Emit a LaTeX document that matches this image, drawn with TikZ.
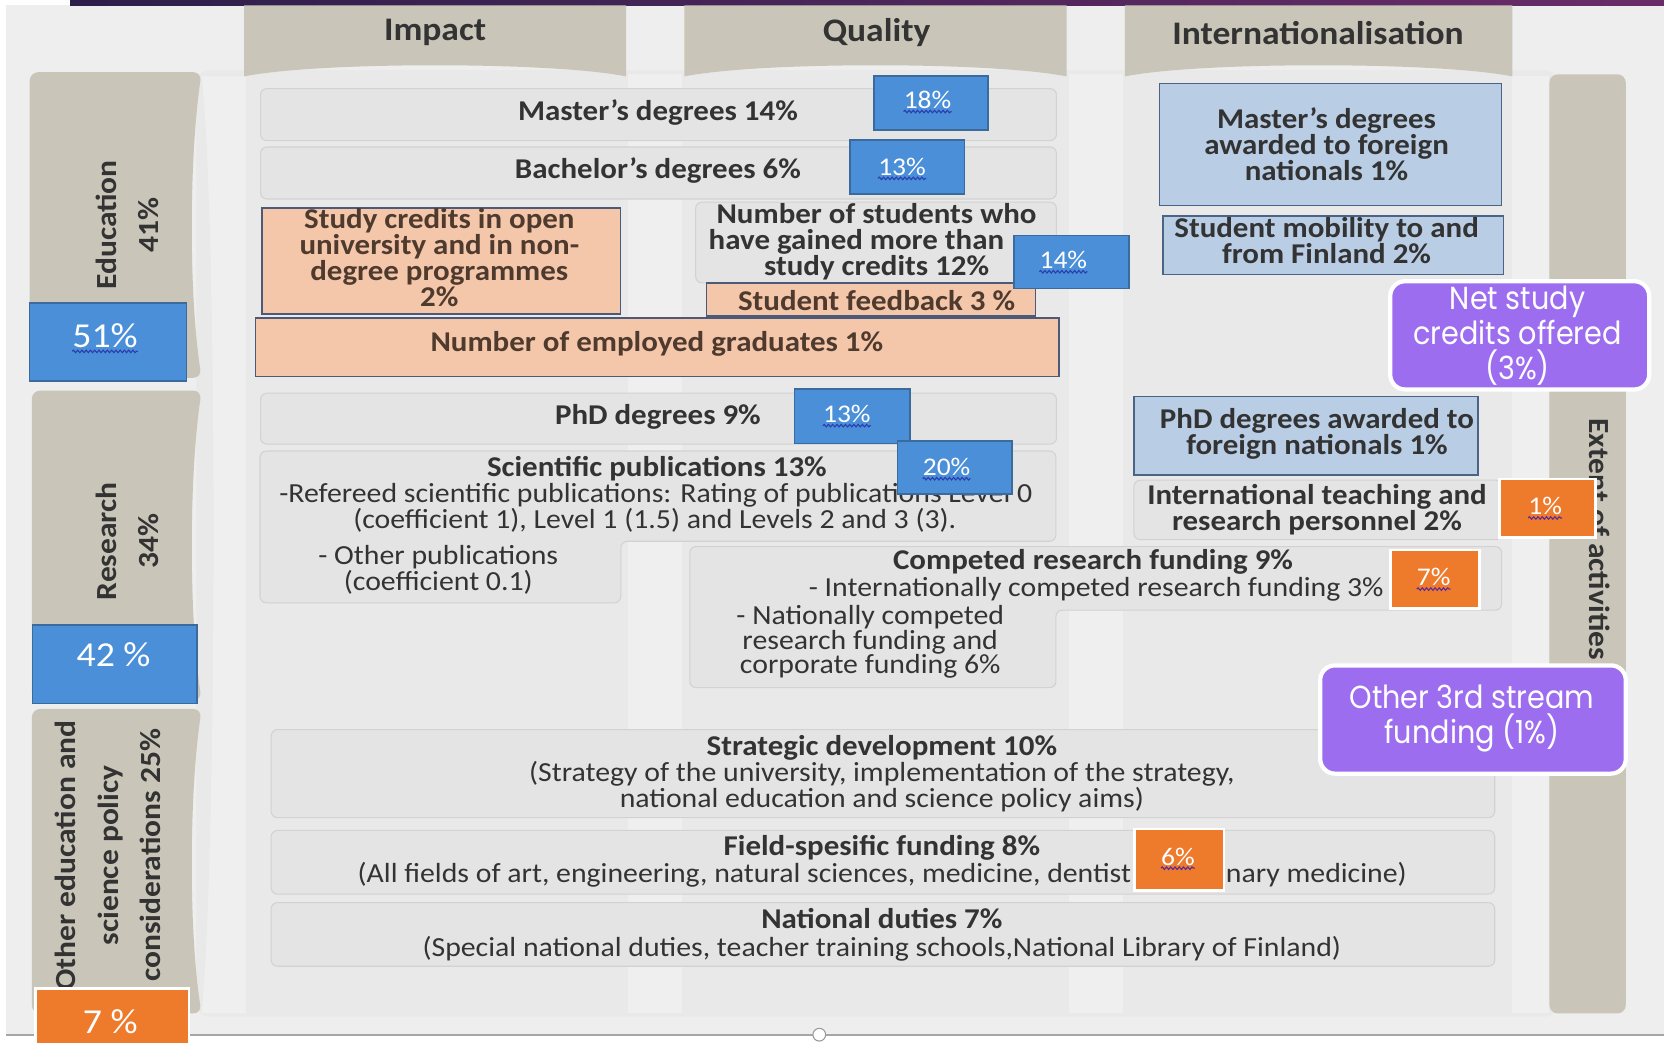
\documentclass[tikz,border=0pt]{standalone}
\usepackage{fontspec}
\setmainfont{Carlito}[FakeStretch=1.08]
\newfontfamily\pop{Poppins}[FakeStretch=0.9]
\usetikzlibrary{decorations.pathmorphing}
\definecolor{bgc}{HTML}{EEEEEE}
\definecolor{panelc}{HTML}{E9E9E9}
\definecolor{tanc}{HTML}{C9C5B9}
\definecolor{barc}{HTML}{E4E4E4}
\definecolor{barline}{HTML}{D2D2D2}
\definecolor{bluec}{HTML}{4A8FD8}
\definecolor{blueline}{HTML}{3B6A9C}
\definecolor{peachc}{HTML}{F4C7AB}
\definecolor{peachline}{HTML}{4B5A78}
\definecolor{ltbluec}{HTML}{B9CDE5}
\definecolor{ltblueline}{HTML}{4A6486}
\definecolor{orangec}{HTML}{EE7A2C}
\definecolor{purplec}{HTML}{9D6DF0}
\definecolor{txtc}{HTML}{333333}
\definecolor{browntxt}{HTML}{4F3A2E}
\definecolor{topA}{HTML}{2C1F4A}
\definecolor{topB}{HTML}{6A2C68}
\definecolor{wavyb}{HTML}{2A3DB0}
\definecolor{wavyp}{HTML}{5A2A9A}
\newcommand{\boxat}[6]{\node[#1,anchor=north west,minimum width=#5pt,minimum height=#6pt,inner sep=0pt] (#2) at (#3,#4) {};}
\begin{document}
\begin{tikzpicture}[x=1pt,y=-1pt,
  tab/.style={fill=tanc},
  bar/.style={fill=barc,draw=barline,line width=1pt,rounded corners=6pt},
  bluebox/.style={fill=bluec,draw=blueline,line width=1.5pt},
  peachbox/.style={fill=peachc,draw=peachline,line width=1.5pt},
  ltbox/.style={fill=ltbluec,draw=ltblueline,line width=1.5pt},
  orbox/.style={fill=orangec,draw=white,line width=2.5pt},
  purbox/.style={fill=purplec,draw=white,line width=4pt,rounded corners=14pt},
  bt/.style={font=\fontsize{27}{24.5}\selectfont\bfseries,text=txtc,align=center,inner sep=0pt},
  bbt/.style={bt,text=browntxt},
  st/.style={font=\fontsize{26}{23}\selectfont,text=txtc,align=center,inner sep=0pt},
  hd/.style={font=\fontsize{31}{31}\selectfont\bfseries,text=txtc,inner sep=0pt},
  tabt/.style={font=\fontsize{27.5}{40}\selectfont\bfseries,text=txtc,align=center,inner sep=0pt},
  pct/.style={font=\fontsize{24}{24}\selectfont,text=white,inner sep=0pt},
  bigpct/.style={font=\fontsize{33}{33}\selectfont,text=white,inner sep=0pt},
  ptxt/.style={font=\pop\fontsize{30}{33}\selectfont,text=white,align=center,inner sep=0pt},
  wavy/.style={decorate,decoration={snake,amplitude=1.2pt,segment length=4pt},line width=1pt}
]
\useasboundingbox (0,0) rectangle (1568,982);
% background
\fill[bgc] (0,0) rectangle (1568,982);
\fill[white] (0,0) rectangle (6,982);
\fill[white] (0,0) rectangle (66,5);
\shade[left color=topA,right color=topB] (66,0) rectangle (1568,5);
% panel
\fill[panelc,rounded corners=12pt] (185,66) rectangle (1468,958);
\fill[white,opacity=0.3] (592,70) rectangle (643,955);
\fill[white,opacity=0.3] (1007,70) rectangle (1058,955);
\fill[white,opacity=0.3] (190,72) .. controls (205,200) and (205,800) .. (190,955) -- (232,955) -- (232,72) -- cycle;
\fill[white,opacity=0.3] (1425,72) rectangle (1460,955);
% bottom rule
\fill[white] (6,976) rectangle (1568,982);
\draw[gray!70,line width=1.5pt] (6,975) -- (1568,975);
\node[circle,draw=gray!80,fill=white,line width=1pt,minimum size=12pt,inner sep=0pt] (handle) at (772,975) {};
% header tabs
\path[tab] (230,5) -- (590,5) -- (590,72) .. controls (520,58) and (300,58) .. (230,72) -- cycle;
\path[tab] (645,5) -- (1005,5) -- (1005,72) .. controls (935,58) and (715,58) .. (645,72) -- cycle;
\path[tab] (1060,5) -- (1425,5) -- (1425,72) .. controls (1355,58) and (1130,58) .. (1060,72) -- cycle;
\node[hd] (h1) at (410,31) {Impact};
\node[hd] (h2) at (826,31) {Quality};
\node[hd] (h3) at (1242,31) {Internationalisation};
% left tabs
\path[tab,rounded corners=8pt] (28,68) -- (190,68) .. controls (178,150) and (178,280) .. (190,356) -- (28,356) -- cycle;
\path[tab,rounded corners=8pt] (30,368) -- (190,368) .. controls (178,450) and (178,580) .. (190,660) -- (30,660) -- cycle;
\path[tab,rounded corners=8pt] (30,668) -- (190,668) .. controls (178,750) and (178,880) .. (190,955) -- (30,955) -- cycle;
\node[tabt,rotate=90] (t1) at (120,212) {Education\\41\%};
\node[tabt,rotate=90] (t2) at (120,510) {Research\\34\%};
\node[tabt,rotate=90] (t3) at (102,806) {Other education and\\science policy\\considerations 25\%};
% right tab
\path[tab,rounded corners=8pt] (1460,70) -- (1532,70) -- (1532,955) -- (1460,955) -- cycle;
\node[tabt,rotate=-90] (t4) at (1507,508) {Extent of activities};
% left percentage boxes
\boxat{bluebox}{p51}{27}{285}{148}{73}
\node[bigpct] (p51t) at (99,316) {51\%};
\draw[wavy,wavyb] ([yshift=-4pt]p51t.base west) -- ([yshift=-4pt]p51t.base east);
\boxat{bluebox}{p42}{30}{588}{155}{74}
\node[bigpct] (p42t) at (107,617) {42 \%};
\boxat{orbox}{p7}{32}{930}{145}{56}
\node[bigpct] (p7t) at (104,963) {7 \%};
% ===== Education row =====
\boxat{bar}{mast}{245}{83}{750}{49}
\node[bt] (mastt) at (620,106) {Master’s degrees 14\%};
\boxat{bar}{bach}{245}{138}{750}{49}
\node[bt] (bacht) at (620,161) {Bachelor’s degrees 6\%};
\boxat{bluebox}{b18}{823}{71}{107}{51}
\node[pct] (b18t) at (874,94) {18\%};
\draw[wavy,wavyb] ([yshift=-3pt]b18t.base west) -- ([yshift=-3pt]b18t.base east);
\boxat{bluebox}{b13a}{800}{131}{108}{51}
\node[pct] (b13at) at (850,157) {13\%};
\draw[wavy,wavyb] ([yshift=-3pt]b13at.base west) -- ([yshift=-3pt]b13at.base east);
\boxat{bar}{nstud}{655}{190}{340}{76}
\node[bt] (nstudt) at (826,228) {Number of students who\\have gained more than\hspace{38pt}\null\\study credits 12\%};
\boxat{peachbox}{study}{246}{195}{338}{100}
\node[bbt] (studyt) at (414,243) {Study credits in open\\university and in non-\\degree programmes\\2\%};
\boxat{peachbox}{feed}{665}{266}{310}{31}
\node[bbt] (feedt) at (826,283) {Student feedback 3 \%};
\boxat{bluebox}{b14}{955}{221}{108}{50}
\node[pct] (b14t) at (1002,245) {14\%};
\draw[wavy,wavyb] ([yshift=-3pt]b14t.base west) -- ([yshift=-3pt]b14t.base east);
\boxat{peachbox}{empl}{240}{299}{757}{55}
\node[bbt] (emplt) at (619,324) {Number of employed graduates 1\%};
\boxat{ltbox}{imast}{1092}{78}{322}{115}
\node[bt] (imastt) at (1250,136) {Master’s degrees\\awarded to foreign\\nationals 1\%};
\boxat{ltbox}{imob}{1095}{203}{321}{55}
\node[bt] (imobt) at (1250,227) {Student mobility to and\\from Finland 2\%};
% ===== Research row =====
\boxat{bar}{phd}{245}{370}{750}{48}
\node[bt] (phdt) at (620,393) {PhD degrees 9\%};
\boxat{bluebox}{b13b}{748}{366}{109}{51}
\node[pct] (b13bt) at (798,390) {13\%};
\draw[wavy,wavyb] ([yshift=-3pt]b13bt.base west) -- ([yshift=-3pt]b13bt.base east);
\path[bar] (245,425) -- (995,425) -- (995,510) -- (585,510) -- (585,568) -- (245,568) -- cycle;
\node[bt] (scit) at (619,442) {Scientific publications 13\%};
\node[st,anchor=west] (sci1) at (263,467) {-Refereed scientific publications: Rating of publications Level 0};
\node[st] (sci2) at (617,490) {(coefficient 1), Level 1 (1.5) and Levels 2 and 3 (3).};
\node[st] (sci3) at (413,537) {- Other publications\\(coefficient 0.1)};
\boxat{bluebox}{b20}{845}{415}{108}{50}
\node[pct] (b20t) at (892,440) {20\%};
\draw[wavy,wavyb] ([yshift=-3pt]b20t.base west) -- ([yshift=-3pt]b20t.base east);
\path[bar] (650,515) -- (1415,515) -- (1415,575) -- (995,575) -- (995,648) -- (650,648) -- cycle;
\node[bt] (compt) at (1030,529) {Competed research funding 9\%};
\node[st,anchor=west] (comp1) at (762,555) {- Internationally competed research funding 3\%};
\node[st] (comp2) at (820,605) {- Nationally competed\\research funding and\\corporate funding 6\%};
\boxat{orbox}{o7}{1309}{517}{84}{55}
\node[pct] (o7t) at (1351,544) {7\%};
\draw[wavy,wavyp] ([yshift=-3pt]o7t.base west) -- ([yshift=-3pt]o7t.base east);
\boxat{ltbox}{iphd}{1068}{373}{324}{74}
\node[bt] (iphdt) at (1241,409) {PhD degrees awarded to\\foreign nationals 1\%};
\boxat{bar}{iteach}{1068}{452}{347}{56}
\node[bt] (iteacht) at (1241,480) {International teaching and\\research personnel 2\%};
\boxat{orbox}{o1}{1412}{450}{90}{55}
\node[pct] (o1t) at (1456,477) {1\%};
\draw[wavy,wavyp] ([yshift=-3pt]o1t.base west) -- ([yshift=-3pt]o1t.base east);
% ===== Other row =====
\boxat{bar}{strat}{255}{687}{1153}{83}
\node[bt] (stratt) at (831,705) {Strategic development 10\%};
\node[st] (strat2) at (831,741) {(Strategy of the university, implementation of the strategy,\\national education and science policy aims)};
\boxat{bar}{field}{255}{782}{1153}{60}
\node[bt] (fieldt) at (831,799) {Field-spesific funding 8\%};
\node[st,anchor=east] (field2a) at (1066,824) {(All fields of art, engineering, natural sciences, medicine, dentist};
\node[st,anchor=west] (field2b) at (1155,824) {nary medicine)};
\boxat{orbox}{o6}{1068}{780}{84}{58}
\node[pct] (o6t) at (1110,807) {6\%};
\draw[wavy,wavyp] ([yshift=-3pt]o6t.base west) -- ([yshift=-3pt]o6t.base east);
\boxat{bar}{natd}{255}{850}{1153}{60}
\node[bt] (natdt) at (831,866) {National duties 7\%};
\node[st] (natd2) at (831,894) {(Special national duties, teacher training schools,National Library of Finland)};
% ===== purple callouts =====
\boxat{purbox}{net}{1308}{263}{244}{102}
\node[ptxt] (nett) at (1430,316) {Net study\\credits offered\\(3\%)};
\boxat{purbox}{oth3}{1242}{625}{288}{102}
\node[ptxt] (oth3t) at (1387,677) {Other 3rd stream\\funding (1\%)};
\end{tikzpicture}
\end{document}
